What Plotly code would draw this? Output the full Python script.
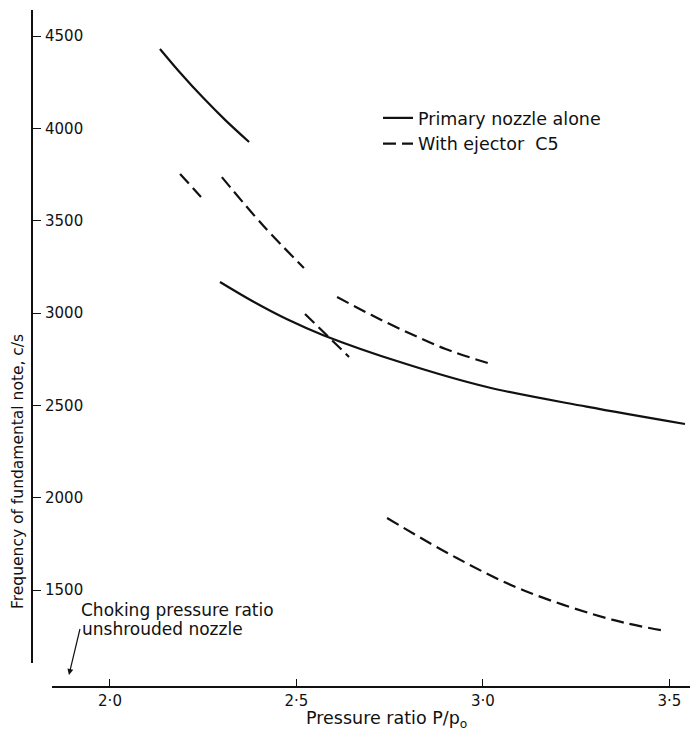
import plotly.graph_objects as go

# ---------------- data ----------------
# Primary nozzle alone (solid line): two branches
primary_upper_x = [2.134, 2.19, 2.25, 2.31, 2.373]
primary_upper_y = [4430, 4297, 4165, 4043, 3926]
primary_lower_x = [2.295, 2.385, 2.475, 2.572, 2.786, 3.011, 3.278, 3.542]
primary_lower_y = [3168, 3061, 2966, 2880, 2729, 2599, 2493, 2399]

# With ejector C5 (dashed line): five branches
ejector_a_x = [2.188, 2.244]
ejector_a_y = [3753, 3628]
ejector_b_x = [2.300, 2.41, 2.520]
ejector_b_y = [3736, 3475, 3244]
ejector_c_x = [2.523, 2.641]
ejector_c_y = [2995, 2762]
ejector_d_x = [2.609, 2.70, 2.80, 2.90, 3.013]
ejector_d_y = [3087, 2990, 2893, 2805, 2729]
ejector_e_x = [2.743, 2.930, 3.107, 3.349, 3.491]
ejector_e_y = [1890, 1673, 1500, 1338, 1278]

choking_ratio = 1.89

x_tick_vals = [2.0, 2.5, 3.0, 3.5]
x_tick_text = ["2·0", "2·5", "3·0", "3·5"]
y_tick_vals = [1500, 2000, 2500, 3000, 3500, 4000, 4500]
y_tick_text = ["1500", "2000", "2500", "3000", "3500", "4000", "4500"]

series_primary = "Primary nozzle alone"
series_ejector = "With ejector  C5"

# ---------------- figure ----------------
FONT = "DejaVu Sans"
INK = "#111111"

fig = go.Figure()

solid = dict(color=INK, width=2.2)
dashed = dict(color=INK, width=2.2, dash="13px,6px")

for i, (xs, ys) in enumerate([(primary_upper_x, primary_upper_y),
                              (primary_lower_x, primary_lower_y)]):
    fig.add_trace(go.Scatter(x=xs, y=ys, mode="lines", line=solid,
                             line_shape="spline", name=series_primary,
                             legendgroup="primary", showlegend=(i == 0),
                             hoverinfo="skip"))

for i, (xs, ys) in enumerate([(ejector_a_x, ejector_a_y),
                              (ejector_b_x, ejector_b_y),
                              (ejector_c_x, ejector_c_y),
                              (ejector_d_x, ejector_d_y),
                              (ejector_e_x, ejector_e_y)]):
    fig.add_trace(go.Scatter(x=xs, y=ys, mode="lines", line=dashed,
                             line_shape="spline", name=series_ejector,
                             legendgroup="ejector", showlegend=(i == 0),
                             hoverinfo="skip"))

W, H = 690, 738
L, R, T, B = 32, 0, 10, 51
pw, ph = W - L - R, H - T - B


def px_x(px):
    return (px - L) / pw


def px_y(py):
    return (H - B - py) / ph


fig.update_layout(
    width=W, height=H,
    margin=dict(l=L, r=R, t=T, b=B),
    paper_bgcolor="white", plot_bgcolor="white",
    font=dict(family=FONT, size=15, color=INK),
    showlegend=True,
    legend=dict(x=px_x(378), y=px_y(100), xanchor="left", yanchor="top",
                bgcolor="rgba(0,0,0,0)", borderwidth=0,
                font=dict(family=FONT, size=17.5, color=INK),
                traceorder="grouped", tracegroupgap=0),
    xaxis=dict(domain=[px_x(52), 1], range=[1.8445, 3.5554],
               anchor="free", position=0,
               showline=True, linecolor=INK, linewidth=1.5,
               showgrid=False, zeroline=False,
               ticks="inside", ticklen=7, tickwidth=1.3, tickcolor=INK,
               tickmode="array", tickvals=x_tick_vals, ticktext=x_tick_text,
               tickfont=dict(family=FONT, size=15, color=INK),
               minor=dict(tickmode="array", tickvals=[choking_ratio],
                          ticks="inside", ticklen=10, tickwidth=1.3,
                          tickcolor=INK, showgrid=False)),
    yaxis=dict(domain=[px_y(663), 1], range=[1104.7, 4640.8],
               anchor="free", position=0,
               showline=True, linecolor=INK, linewidth=2,
               showgrid=False, zeroline=False,
               ticks="inside", ticklen=8, tickwidth=1.3, tickcolor=INK,
               ticklabelposition="inside", ticklabelstandoff=4,
               tickmode="array", tickvals=y_tick_vals, ticktext=y_tick_text,
               tickfont=dict(family=FONT, size=15, color=INK)),
)

annotations = [
    dict(text="Frequency of fundamental note, c/s", textangle=-90,
         xref="paper", yref="paper", x=px_x(18), y=px_y(472),
         xanchor="center", yanchor="middle", showarrow=False,
         font=dict(family=FONT, size=15.5, color=INK)),
    dict(text="Pressure ratio P/p<sub>o</sub>",
         xref="paper", yref="paper", x=px_x(386), y=px_y(719),
         xanchor="center", yanchor="middle", showarrow=False,
         font=dict(family=FONT, size=17.5, color=INK)),
    dict(text="Choking pressure ratio",
         xref="paper", yref="paper", x=px_x(79), y=px_y(610),
         xanchor="left", yanchor="middle", showarrow=False,
         font=dict(family=FONT, size=17, color=INK)),
    dict(text="unshrouded nozzle",
         xref="x", yref="paper", x=choking_ratio, y=px_y(675),
         axref="pixel", ayref="pixel", ax=11, ay=-46,
         xanchor="left", yanchor="middle", showarrow=True,
         arrowhead=2, arrowsize=1, arrowwidth=1.2, arrowcolor=INK,
         standoff=0, startstandoff=0,
         font=dict(family=FONT, size=17, color=INK)),
]
fig.update_layout(annotations=annotations)

fig.write_html("out.html")
